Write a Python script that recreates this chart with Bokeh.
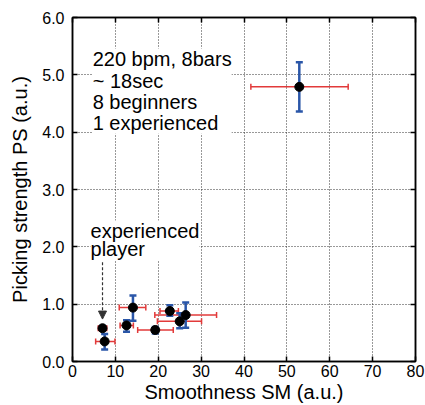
from bokeh.plotting import figure
from bokeh.models import (ColumnDataSource, Whisker, TeeHead, Label, Arrow, NormalHead,
                          LinearAxis, FixedTicker, PrintfTickFormatter, Range1d)
from bokeh.embed import file_html
from bokeh.resources import INLINE

# ---- data ----
sm = [52.9, 7.0, 7.5, 12.6, 14.1, 19.3, 22.7, 25.0, 26.4]
sm_lo = [41.6, 6.0, 5.4, 11.1, 10.9, 15.2, 20.4, 19.8, 19.2]
sm_hi = [64.3, 8.0, 9.9, 14.2, 17.1, 23.5, 24.7, 30.1, 33.6]
ps = [4.79, 0.58, 0.35, 0.63, 0.94, 0.55, 0.88, 0.70, 0.81]
ps_lo = [4.36, 0.55, 0.21, 0.52, 0.71, 0.49, 0.80, 0.58, 0.59]
ps_hi = [5.22, 0.62, 0.48, 0.72, 1.15, 0.60, 0.98, 0.84, 1.03]

x_ticks = [0, 10, 20, 30, 40, 50, 60, 70, 80]
y_ticks = [0, 1, 2, 3, 4, 5, 6]

info_text = "220 bpm, 8bars\n ~ 18sec\n 8 beginners\n 1 experienced"
exp_text = "experienced\nplayer"
arrow_x = 7.0
arrow_y_start = 1.73
arrow_y_end = 0.74

FONT = "Liberation Sans"
RED = "#e23a3a"
BLUE = "#2a56a8"

src = ColumnDataSource(dict(sm=sm, sm_lo=sm_lo, sm_hi=sm_hi, ps=ps, ps_lo=ps_lo, ps_hi=ps_hi))

p = figure(width=425, height=405, output_backend="svg", toolbar_location=None,
           x_range=Range1d(0, 80), y_range=Range1d(0, 6),
           min_border_left=72, min_border_right=10, min_border_top=17, min_border_bottom=44,
           background_fill_color="white", border_fill_color="white")
p.outline_line_color = "black"
p.outline_line_width = 1.5

# axes
for ax, ticks, fmt in ((p.xaxis[0], x_ticks, "%d"), (p.yaxis[0], y_ticks, "%.1f")):
    ax.ticker = FixedTicker(ticks=ticks)
    ax.formatter = PrintfTickFormatter(format=fmt)
    ax.major_tick_in = 5
    ax.major_tick_out = 0
    ax.minor_tick_line_color = None
    ax.axis_line_width = 1.5
    ax.major_tick_line_width = 1.5
    ax.major_label_text_font = FONT
    ax.major_label_text_font_size = "16px"
    ax.major_label_text_color = "black"
    ax.axis_label_text_font = FONT
    ax.axis_label_text_font_size = "20px"
    ax.axis_label_text_font_style = "normal"
    ax.axis_label_text_color = "black"

p.xaxis.axis_label = "Smoothness SM (a.u.)"
p.yaxis.axis_label = "Picking strength PS (a.u.)"
p.xaxis.major_label_standoff = 3
p.xaxis.axis_label_standoff = 1
p.yaxis.major_label_standoff = 8
p.yaxis.axis_label_standoff = 8

for loc, ticks in (("above", x_ticks), ("right", y_ticks)):
    ax = LinearAxis(ticker=FixedTicker(ticks=ticks),
                    major_label_overrides={t: "" for t in ticks},
                    major_label_text_font_size="0px",
                    major_tick_in=5, major_tick_out=0, major_label_standoff=0,
                    minor_tick_line_color=None, axis_line_width=1.5, major_tick_line_width=1.5)
    p.add_layout(ax, loc)

# grid
for g, ticks in ((p.xgrid[0], x_ticks), (p.ygrid[0], y_ticks)):
    g.ticker = FixedTicker(ticks=ticks)
    g.grid_line_color = "#333333"
    g.grid_line_dash = "1 2"
    g.grid_line_width = 1

# text boxes (white backgrounds hide the grid)
p.add_layout(Label(x=4.7, y=5.46, text=info_text, text_baseline="top", text_align="left",
                   text_font=FONT, text_font_size="20px", text_color="black",
                   background_fill_color="white", text_line_height=0.96))
p.add_layout(Label(x=4.2, y=2.46, text=exp_text, text_baseline="top", text_align="left",
                   text_font=FONT, text_font_size="20px", text_color="black",
                   background_fill_color="white", text_line_height=0.8))

# arrow
p.add_layout(Arrow(end=NormalHead(size=8, fill_color="#333333", line_color="#333333"),
                   x_start=arrow_x, y_start=arrow_y_start, x_end=arrow_x, y_end=arrow_y_end,
                   line_color="#333333", line_width=1.2, line_dash="3 2"))

# error bars (below the points)
p.add_layout(Whisker(source=src, base="ps", lower="sm_lo", upper="sm_hi", dimension="width",
                     line_color=RED, line_width=1.5,
                     lower_head=TeeHead(size=6, line_color=RED, line_width=1.5),
                     upper_head=TeeHead(size=6, line_color=RED, line_width=1.5),
                     level="underlay"))
p.add_layout(Whisker(source=src, base="sm", lower="ps_lo", upper="ps_hi", dimension="height",
                     line_color=BLUE, line_width=2.5,
                     lower_head=TeeHead(size=7, line_color=BLUE, line_width=2.5),
                     upper_head=TeeHead(size=7, line_color=BLUE, line_width=2.5),
                     level="underlay"))

p.scatter("sm", "ps", source=src, size=9, fill_color="black", line_color="black")

open("out.html", "w").write(file_html(p, INLINE))
